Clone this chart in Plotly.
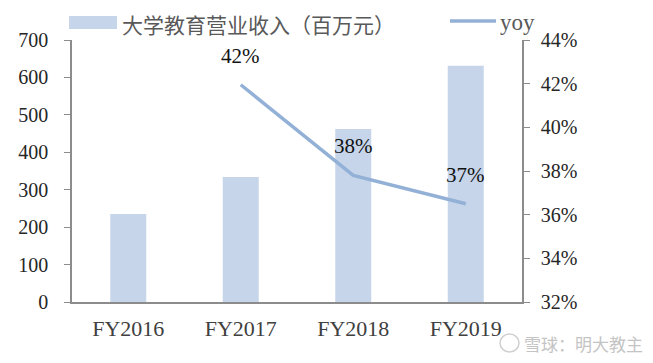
import plotly.graph_objects as go

categories = ["FY2016", "FY2017", "FY2018", "FY2019"]
revenue = [235, 334, 462, 631]
yoy_cats = ["FY2017", "FY2018", "FY2019"]
yoy = [41.95, 37.8, 36.5]
yoy_labels = ["42%", "38%", "37%"]
legend_bar = "大学教育营业收入（百万元）"
legend_line = "yoy"
watermark = "雪球：明大教主"

bar_color = "#c6d5ea"
line_color = "#93b1d6"
axis_color = "#8c8c8c"

OFF = 8  # page body margin
W, H = 653 - OFF, 363 - OFF
L, T = 72 - OFF, 40 - OFF
R = W - (522 - OFF)
B = H - (302 - OFF)
pw, ph = W - L - R, H - T - B


def px(x):
    return (x - OFF - L) / pw


def py(y):
    return (H - B - (y - OFF)) / ph


fig = go.Figure()
fig.add_trace(go.Bar(
    x=categories, y=revenue, name=legend_bar,
    marker=dict(color=bar_color, line=dict(width=0)), width=0.32,
    yaxis="y", showlegend=False,
))
fig.add_trace(go.Scatter(
    x=yoy_cats, y=yoy, name=legend_line, mode="lines",
    line=dict(color=line_color, width=3.5), yaxis="y2", showlegend=False,
))

for c, v, t in zip(yoy_cats, yoy, yoy_labels):
    fig.add_annotation(x=c, y=v, xref="x", yref="y2", text=t, showarrow=False,
                       yshift=29, font=dict(family="Liberation Serif", size=21, color="#111111"))

# legend drawn manually
fig.add_shape(type="rect", xref="paper", yref="paper", x0=px(69), x1=px(117), y0=py(29), y1=py(16),
              fillcolor=bar_color, line=dict(width=0))
fig.add_annotation(x=px(120), y=py(24), xref="paper", yref="paper", xanchor="left", yanchor="middle",
                   text=legend_bar, showarrow=False,
                   font=dict(family="Noto Sans CJK SC", size=21, color="#595959"))
fig.add_shape(type="line", xref="paper", yref="paper", x0=px(450), x1=px(496), y0=py(21), y1=py(21),
              line=dict(color=line_color, width=3.5))
fig.add_annotation(x=px(498), y=py(22), xref="paper", yref="paper", xanchor="left", yanchor="middle",
                   text=legend_line, showarrow=False,
                   font=dict(family="Liberation Serif", size=23, color="#595959"))

# watermark
fig.add_shape(type="circle", xref="paper", yref="paper", x0=px(500), x1=px(519), y0=py(352), y1=py(334),
              line=dict(color="#d0d0d0", width=1.5))
fig.add_annotation(x=px(522), y=py(343), xref="paper", yref="paper", xanchor="left", yanchor="middle",
                   text=watermark, showarrow=False,
                   font=dict(family="Noto Sans CJK SC", size=17, color="#c4c4c4"))

fig.update_layout(
    width=W, height=H,
    margin=dict(l=L, r=R, t=T, b=B, autoexpand=False),
    paper_bgcolor="white", plot_bgcolor="white",
    showlegend=False,
    xaxis=dict(categoryorder="array", categoryarray=categories, showline=True, automargin=False,
               linecolor=axis_color, linewidth=1.5, ticks="", showgrid=False, ticklabelstandoff=6,
               tickfont=dict(family="Liberation Serif", size=22, color="#404040")),
    yaxis=dict(range=[0, 700], dtick=100, showline=True, linecolor=axis_color, linewidth=1.5,
               automargin=False, ticklabelstandoff=12,
               ticks="outside", ticklen=6, tickcolor=axis_color, showgrid=False, zeroline=False,
               tickfont=dict(family="Liberation Serif", size=20, color="#262626")),
    yaxis2=dict(range=[32, 44], dtick=2, ticksuffix="%", overlaying="y", side="right",
                showline=True, linecolor=axis_color, linewidth=1.5, automargin=False,
                ticklabelstandoff=7,
                ticks="outside", ticklen=6, tickcolor=axis_color, showgrid=False, zeroline=False,
                tickfont=dict(family="Liberation Serif", size=20, color="#262626")),
)

fig.write_html("out.html")
